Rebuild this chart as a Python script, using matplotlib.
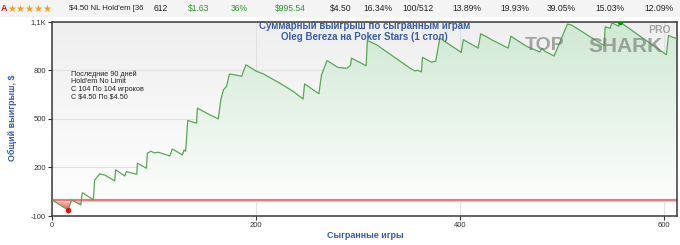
import numpy as np
import matplotlib
matplotlib.use('Agg')
import matplotlib.pyplot as plt
from matplotlib.path import Path
from matplotlib.patches import PathPatch, Rectangle
from matplotlib.colors import LinearSegmentedColormap

plt.rcParams['font.family'] = ['Liberation Sans', 'DejaVu Sans']

# ---- data (cumulative winnings, $, by games played) ----
games = [0, 15.7, 19.3, 28.2, 29.7, 40.5, 41.8, 46.8, 51.7, 61.4, 62.4, 71.3, 72.9,
         83, 83.7, 92.5, 93.5, 97, 100, 104, 115.4, 117.9, 127.8, 129.4, 131, 133,
         141.6, 142.5, 154.5, 163, 165.4, 168, 171, 173.8, 179, 185.8, 190, 200.6,
         207, 223, 236.5, 246, 247.5, 261.5, 264, 269.5, 280, 289, 292.5, 293.5,
         307.8, 309, 318, 351, 356, 358, 362, 363, 371.8, 376, 380, 401, 403,
         417.6, 420, 425, 430.6, 447, 449.6, 465, 478, 480, 483, 492, 505, 509,
         541, 542, 547, 548.5, 555.5, 556.5, 602, 604, 612]
winnings = [0, -63, 0, -32, 44, 0, 123, 160, 153, 117, 185, 147, 174,
            158, 226, 195, 288, 300, 290, 294, 271, 314, 277, 308, 300, 490,
            473, 566, 525, 500, 618, 680, 700, 777, 772, 763, 834, 793,
            778, 721, 669, 622, 716, 655, 770, 860, 818, 812, 832, 875,
            828, 984, 958, 812, 795, 800, 790, 880, 850, 856, 999, 910, 989,
            937, 1025, 1010, 989, 937, 1010, 948, 913, 937, 917, 888, 1085, 1080,
            952, 1068, 1060, 1093, 1072, 1098, 896, 1015, 995]

y_ticks = [-100, 200, 500, 800, 1100]
y_tick_labels = ['-100', '200', '500', '800', '1,1K']
x_ticks = [0, 200, 400, 600]

header_texts = ["$4.50 NL Hold'em [36", "612", "$1.63", "36%", "$995.54", "$4.50",
                "16.34%", "100/512", "13.89%", "19.93%", "39.05%", "15.03%", "12.09%"]
header_x = [69, 154, 188, 231, 275, 330, 363, 402, 452, 500, 547, 595, 644]
header_green = [False, False, True, True, True, False, False, False, False, False,
                False, False, False]

info_lines = ["Последние 90 дней", "Hold'em No Limit",
              "С 104 По 104 игроков", "С $4.50 По $4.50"]

W, H = 680, 245
XMAX = 612.7
fig = plt.figure(figsize=(W / 100, H / 100), dpi=100)
fig.patch.set_facecolor('white')

# header row
fig.patches.append(Rectangle((0, 1 - 17 / H), 1, 17 / H, transform=fig.transFigure,
                             facecolor='#f4f4f4', edgecolor='none', zorder=0))
fig.text(1.0 / W, 1 - 8.5 / H, 'A', color='#d02020', fontsize=6.5, fontweight='bold',
         va='center', ha='left', parse_math=False)
fig.text(7.5 / W, 1 - 8.5 / H, '★★★★★', color='#f0a020', fontsize=7.2,
         va='center', ha='left', family=['DejaVu Sans'])
for t, xx, gr in zip(header_texts, header_x, header_green):
    fig.text(xx / W, 1 - 8.5 / H, t, color='#2e9a2e' if gr else '#222222',
             fontsize=5.6 if xx == 69 else 6.2, va='center', ha='left',
             parse_math=False)

ax = fig.add_axes([52 / W, 1 - 216 / H, (677.3 - 52) / W, (216 - 21.7) / H])

# background gradient
bg = np.linspace(0, 1, 256).reshape(-1, 1)
bg_cmap = LinearSegmentedColormap.from_list('bg', ['#ffffff', '#efefef'])
ax.imshow(bg, extent=[0, XMAX, -100, 1100], origin='lower', aspect='auto',
          cmap=bg_cmap, zorder=0)

g = np.array(games, dtype=float)
w = np.array(winnings, dtype=float)

# green gradient fill above zero
fb = ax.fill_between(g, w, 0, where=w >= 0, interpolate=True,
                     facecolor='none', edgecolor='none')
gpath = Path.make_compound_path(*fb.get_paths())
gpatch = PathPatch(gpath, transform=ax.transData, facecolor='none', edgecolor='none')
ax.add_patch(gpatch)
green_cmap = LinearSegmentedColormap.from_list('gr', ['#fdfefd', '#cfe8d3'])
im = ax.imshow(bg, extent=[0, XMAX, 0, 1100], origin='lower', aspect='auto',
               cmap=green_cmap, zorder=1)
im.set_clip_path(gpatch)

# red gradient fill below zero
fr = ax.fill_between(g, w, 0, where=w <= 0, interpolate=True,
                     facecolor='none', edgecolor='none')
rpath = Path.make_compound_path(*fr.get_paths())
rpatch = PathPatch(rpath, transform=ax.transData, facecolor='none', edgecolor='none')
ax.add_patch(rpatch)
red_cmap = LinearSegmentedColormap.from_list('rd', ['#e82020', '#ffd0d0'])
im2 = ax.imshow(bg, extent=[0, XMAX, -100, 0], origin='lower', aspect='auto',
                cmap=red_cmap, zorder=1)
im2.set_clip_path(rpatch)

ax.grid(True, color='#e0e0e0', lw=0.8, zorder=0.5)
ax.set_axisbelow(True)

ax.axhline(0, color='#f6c0c0', lw=2.4, zorder=2)
ax.axhline(0, color='#e06666', lw=1.1, zorder=2)
ax.plot(g, w, color='#5aa55a', lw=0.9, zorder=3)
imin = int(np.argmin(w))
imax = int(np.argmax(w))
ax.plot(g[imin], w[imin], 'o', color='#e01010', ms=3, zorder=4)
ax.plot(g[imax], w[imax], 'o', color='#109010', ms=3, zorder=4)

ax.set_xlim(0, XMAX)
ax.set_ylim(-100, 1100)
ax.set_yticks(y_ticks)
ax.set_yticklabels(y_tick_labels)
ax.set_xticks(x_ticks)
ax.tick_params(axis='both', labelsize=5.5, colors='#333333', length=3, width=0.8, pad=1.5)
for s in ax.spines.values():
    s.set_color('#3a3a3a')
    s.set_linewidth(1.1)

blue = '#3b5ca8'
ax.text(0.5, 0.978, 'Суммарный выигрыш по сыгранным играм', transform=ax.transAxes,
        ha='center', va='center', fontsize=7, color=blue, fontweight='bold', zorder=6)
ax.text(0.5, 0.921, 'Oleg Bereza на Poker Stars (1 стол)', transform=ax.transAxes,
        ha='center', va='center', fontsize=7, color=blue, fontweight='bold', zorder=6)

for i, line in enumerate(info_lines):
    fig.text(71 / W, 1 - (74 + i * 7.6) / H, line, fontsize=5.2, color='#222222',
             ha='left', va='center', parse_math=False)

fig.text(12.5 / W, 1 - 118 / H, 'Общий выигрыш, $', rotation=90, ha='center',
         va='center', fontsize=6.5, color=blue, fontweight='bold', parse_math=False)
fig.text(365 / W, 1 - 235 / H, 'Сыгранные игры', ha='center', va='center',
         fontsize=6.5, color=blue, fontweight='bold')

# watermark
fig.text(525 / W, 1 - 46 / H, 'TOP', fontsize=14, fontweight='bold', color='#707070',
         alpha=0.6, ha='left', va='center', zorder=7)
fig.text(588 / W, 1 - 46 / H, 'SHARK', fontsize=15, fontweight='bold', color='#707070',
         alpha=0.6, ha='left', va='center', zorder=7)
fig.text(648 / W, 1 - 30 / H, 'PRO', fontsize=7.5, fontweight='bold', color='#707070',
         alpha=0.6, ha='left', va='center', zorder=7)

fig.savefig('out.png', dpi=100)
